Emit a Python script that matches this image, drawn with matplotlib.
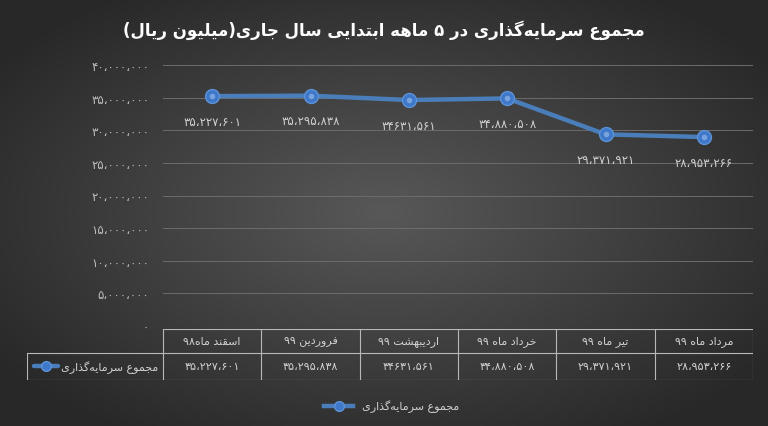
import numpy as np
import matplotlib
matplotlib.use("Agg")
import matplotlib.pyplot as plt
from matplotlib.lines import Line2D

plt.rcParams["font.family"] = ["DejaVu Sans"]

# data
categories = ["اسقند ماه۹۸", "فروردین ۹۹", "اردیبهشت ۹۹", "خرداد ماه ۹۹", "تیر ماه ۹۹", "مرداد ماه ۹۹"]
values = [35227601, 35295838, 34631561, 34880508, 29371921, 28953266]
value_labels = ["۳۵،۲۲۷،۶۰۱", "۳۵،۲۹۵،۸۳۸", "۳۴۶۳۱،۵۶۱", "۳۴،۸۸۰،۵۰۸", "۲۹،۳۷۱،۹۲۱", "۲۸،۹۵۳،۲۶۶"]
yticks = [0, 5000000, 10000000, 15000000, 20000000, 25000000, 30000000, 35000000, 40000000]
ytick_labels = ["۰", "۵،۰۰۰،۰۰۰", "۱۰،۰۰۰،۰۰۰", "۱۵،۰۰۰،۰۰۰", "۲۰،۰۰۰،۰۰۰",
                "۲۵،۰۰۰،۰۰۰", "۳۰،۰۰۰،۰۰۰", "۳۵،۰۰۰،۰۰۰", "۴۰،۰۰۰،۰۰۰"]
series_name = "مجموع سرمایه‌گذاری"
title = "مجموع سرمایه‌گذاری در ۵ ماهه ابتدایی سال جاری(میلیون ریال)"

# ---- minimal persian shaping (no reshaper available) ----
# isolated, final, initial, medial
FORMS = {
    "ا": (0xFE8D, 0xFE8E, None, None), "ب": (0xFE8F, 0xFE90, 0xFE91, 0xFE92),
    "ت": (0xFE95, 0xFE96, 0xFE97, 0xFE98), "ج": (0xFE9D, 0xFE9E, 0xFE9F, 0xFEA0),
    "خ": (0xFEA5, 0xFEA6, 0xFEA7, 0xFEA8), "د": (0xFEA9, 0xFEAA, None, None),
    "ذ": (0xFEAB, 0xFEAC, None, None), "ر": (0xFEAD, 0xFEAE, None, None),
    "س": (0xFEB1, 0xFEB2, 0xFEB3, 0xFEB4), "ش": (0xFEB5, 0xFEB6, 0xFEB7, 0xFEB8),
    "ع": (0xFEC9, 0xFECA, 0xFECB, 0xFECC), "ف": (0xFED1, 0xFED2, 0xFED3, 0xFED4),
    "ق": (0xFED5, 0xFED6, 0xFED7, 0xFED8), "ل": (0xFEDD, 0xFEDE, 0xFEDF, 0xFEE0),
    "م": (0xFEE1, 0xFEE2, 0xFEE3, 0xFEE4), "ن": (0xFEE5, 0xFEE6, 0xFEE7, 0xFEE8),
    "ه": (0xFEE9, 0xFEEA, 0xFEEB, 0xFEEC), "و": (0xFEED, 0xFEEE, None, None),
    "ی": (0xFBFC, 0xFBFD, 0xFBFE, 0xFBFF), "گ": (0xFB92, 0xFB93, 0xFB94, 0xFB95),
}


def dual(c):
    return c in FORMS and FORMS[c][2] is not None


def shape(word):
    out = []
    n = len(word)
    for i, c in enumerate(word):
        if c not in FORMS:
            if c != "\u200c":
                out.append(c)
            continue
        prev_c = word[i - 1] if i > 0 else ""
        next_c = word[i + 1] if i + 1 < n else ""
        jp = dual(prev_c)
        jn = dual(c) and next_c in FORMS
        f = FORMS[c]
        if jp and jn:
            code = f[3]
        elif jp:
            code = f[1]
        elif jn:
            code = f[2]
        else:
            code = f[0]
        out.append(chr(code))
    return "".join(out)


def is_digit(c):
    return "\u06f0" <= c <= "\u06f9" or c == "،"


def tokens(text):
    toks, cur, kind = [], "", None
    for c in text:
        k = "d" if is_digit(c) else ("s" if c in " ()" else "a")
        if k != kind and cur:
            toks.append((kind, cur))
            cur = ""
        cur += c
        kind = k
    if cur:
        toks.append((kind, cur))
    return toks


MIRROR = {"(": ")", ")": "("}


def rtl(text):
    parts = []
    for kind, t in reversed(tokens(text)):
        if kind == "a":
            parts.append(shape(t)[::-1])
        elif kind == "s":
            parts.append("".join(MIRROR.get(c, c) for c in t[::-1]))
        else:
            parts.append(t)
    return "".join(parts)


W, H = 768, 427
fig = plt.figure(figsize=(W / 100, H / 100), dpi=100)

# background radial gradient
bg = fig.add_axes([0, 0, 1, 1], zorder=-10)
yy, xx = np.mgrid[0:1:200j, 0:1:300j]
r = np.sqrt(((xx - 0.5) / 0.62) ** 2 + ((yy - 0.5) / 0.62) ** 2)
r = np.clip(r, 0, 1)
c0, c1 = np.array([0x58, 0x58, 0x58]) / 255, np.array([0x28, 0x28, 0x28]) / 255
img = c0[None, None, :] * (1 - r[..., None]) + c1[None, None, :] * r[..., None]
bg.imshow(img, aspect="auto", extent=[0, 1, 0, 1])
bg.axis("off")

txt_c = "#d0d0d0"
line_color = "#4a7ebb"

# main plot area (pixels: x 163..753, y 66..327)
ax = fig.add_axes([163 / W, 1 - 327 / H, 590 / W, (327 - 66) / H])
ax.set_facecolor("none")
x = np.arange(len(categories))
ax.plot(x, values, color=line_color, lw=3.2, solid_capstyle="round", zorder=3)
ax.plot(x, values, ls="none", marker="o", ms=10, mfc="#3f78c8", mec="#5c93d8", mew=1.0, zorder=4)
ax.plot(x, values, ls="none", marker="o", ms=4, mfc="#8fb6ea", mec="none", alpha=0.7, zorder=5)
for xi, v, lab in zip(x, values, value_labels):
    ax.annotate(lab, (xi, v), xytext=(0, -18), textcoords="offset points",
                ha="center", va="center", fontsize=8.5, color=txt_c)

ax.set_xlim(-0.5, 5.5)
ax.set_ylim(0, 40000000)
ax.set_yticks(yticks)
ax.set_yticklabels(ytick_labels, fontsize=8.5, color="#bdbdbd")
ax.tick_params(axis="y", length=0, pad=10)
ax.set_xticks([])
ax.grid(axis="y", color="#6c6c6c", lw=0.7)
ax.set_axisbelow(True)
for s in ax.spines.values():
    s.set_visible(False)

# data table (pixels: x 27..753, y 330..381)
tx0 = 27
tab = fig.add_axes([tx0 / W, 1 - 381 / H, (753 - tx0) / W, (381 - 330) / H])
tab.set_facecolor("none")
left = -0.5 - (163 - tx0) / (590 / 6)
tab.set_xlim(left, 5.5)
tab.set_ylim(0, 1)
tab.axis("off")
grid_c = "#b8b8b8"
mid = 0.53
tab.plot([-0.5, 5.5], [1, 1], color=grid_c, lw=0.8)
tab.plot([left, 5.5], [mid, mid], color=grid_c, lw=0.8)
tab.plot([left, 5.5], [0, 0], color=grid_c, lw=0.8)
tab.plot([left, left], [0, mid], color=grid_c, lw=0.8)
for b in np.arange(len(categories) + 1) - 0.5:
    tab.plot([b, b], [0, 1], color=grid_c, lw=0.8)
for xi, cat, lab in zip(x, categories, value_labels):
    tab.text(xi, (1 + mid) / 2, rtl(cat), ha="center", va="center", fontsize=8, color=txt_c)
    tab.text(xi, mid / 2, lab, ha="center", va="center", fontsize=8, color=txt_c)
tab.text(-0.55, mid / 2, rtl(series_name), ha="right", va="center", fontsize=8, color=txt_c)
key_x0 = left + 7 / (590 / 6)
key_x1 = left + 31 / (590 / 6)
tab.plot([key_x0, key_x1], [mid / 2, mid / 2], color=line_color, lw=3.2, solid_capstyle="round")
tab.plot([(key_x0 + key_x1) / 2], [mid / 2], marker="o", ms=7, mfc="#3f78c8", mec="#5c93d8")

# legend
handle = Line2D([], [], color=line_color, lw=3.2, marker="o", ms=7, mfc="#3f78c8", mec="#5c93d8")
fig.legend([handle], [rtl(series_name)], loc="center", bbox_to_anchor=(0.51, 1 - 407 / H),
           frameon=False, fontsize=8, labelcolor=txt_c, handlelength=2.6)

fig.text(0.5, 1 - 30 / H, rtl(title), ha="center", va="center", fontsize=12,
         fontweight="bold", color="white")

fig.savefig("out.png", dpi=100, facecolor="#2a2a2a")
